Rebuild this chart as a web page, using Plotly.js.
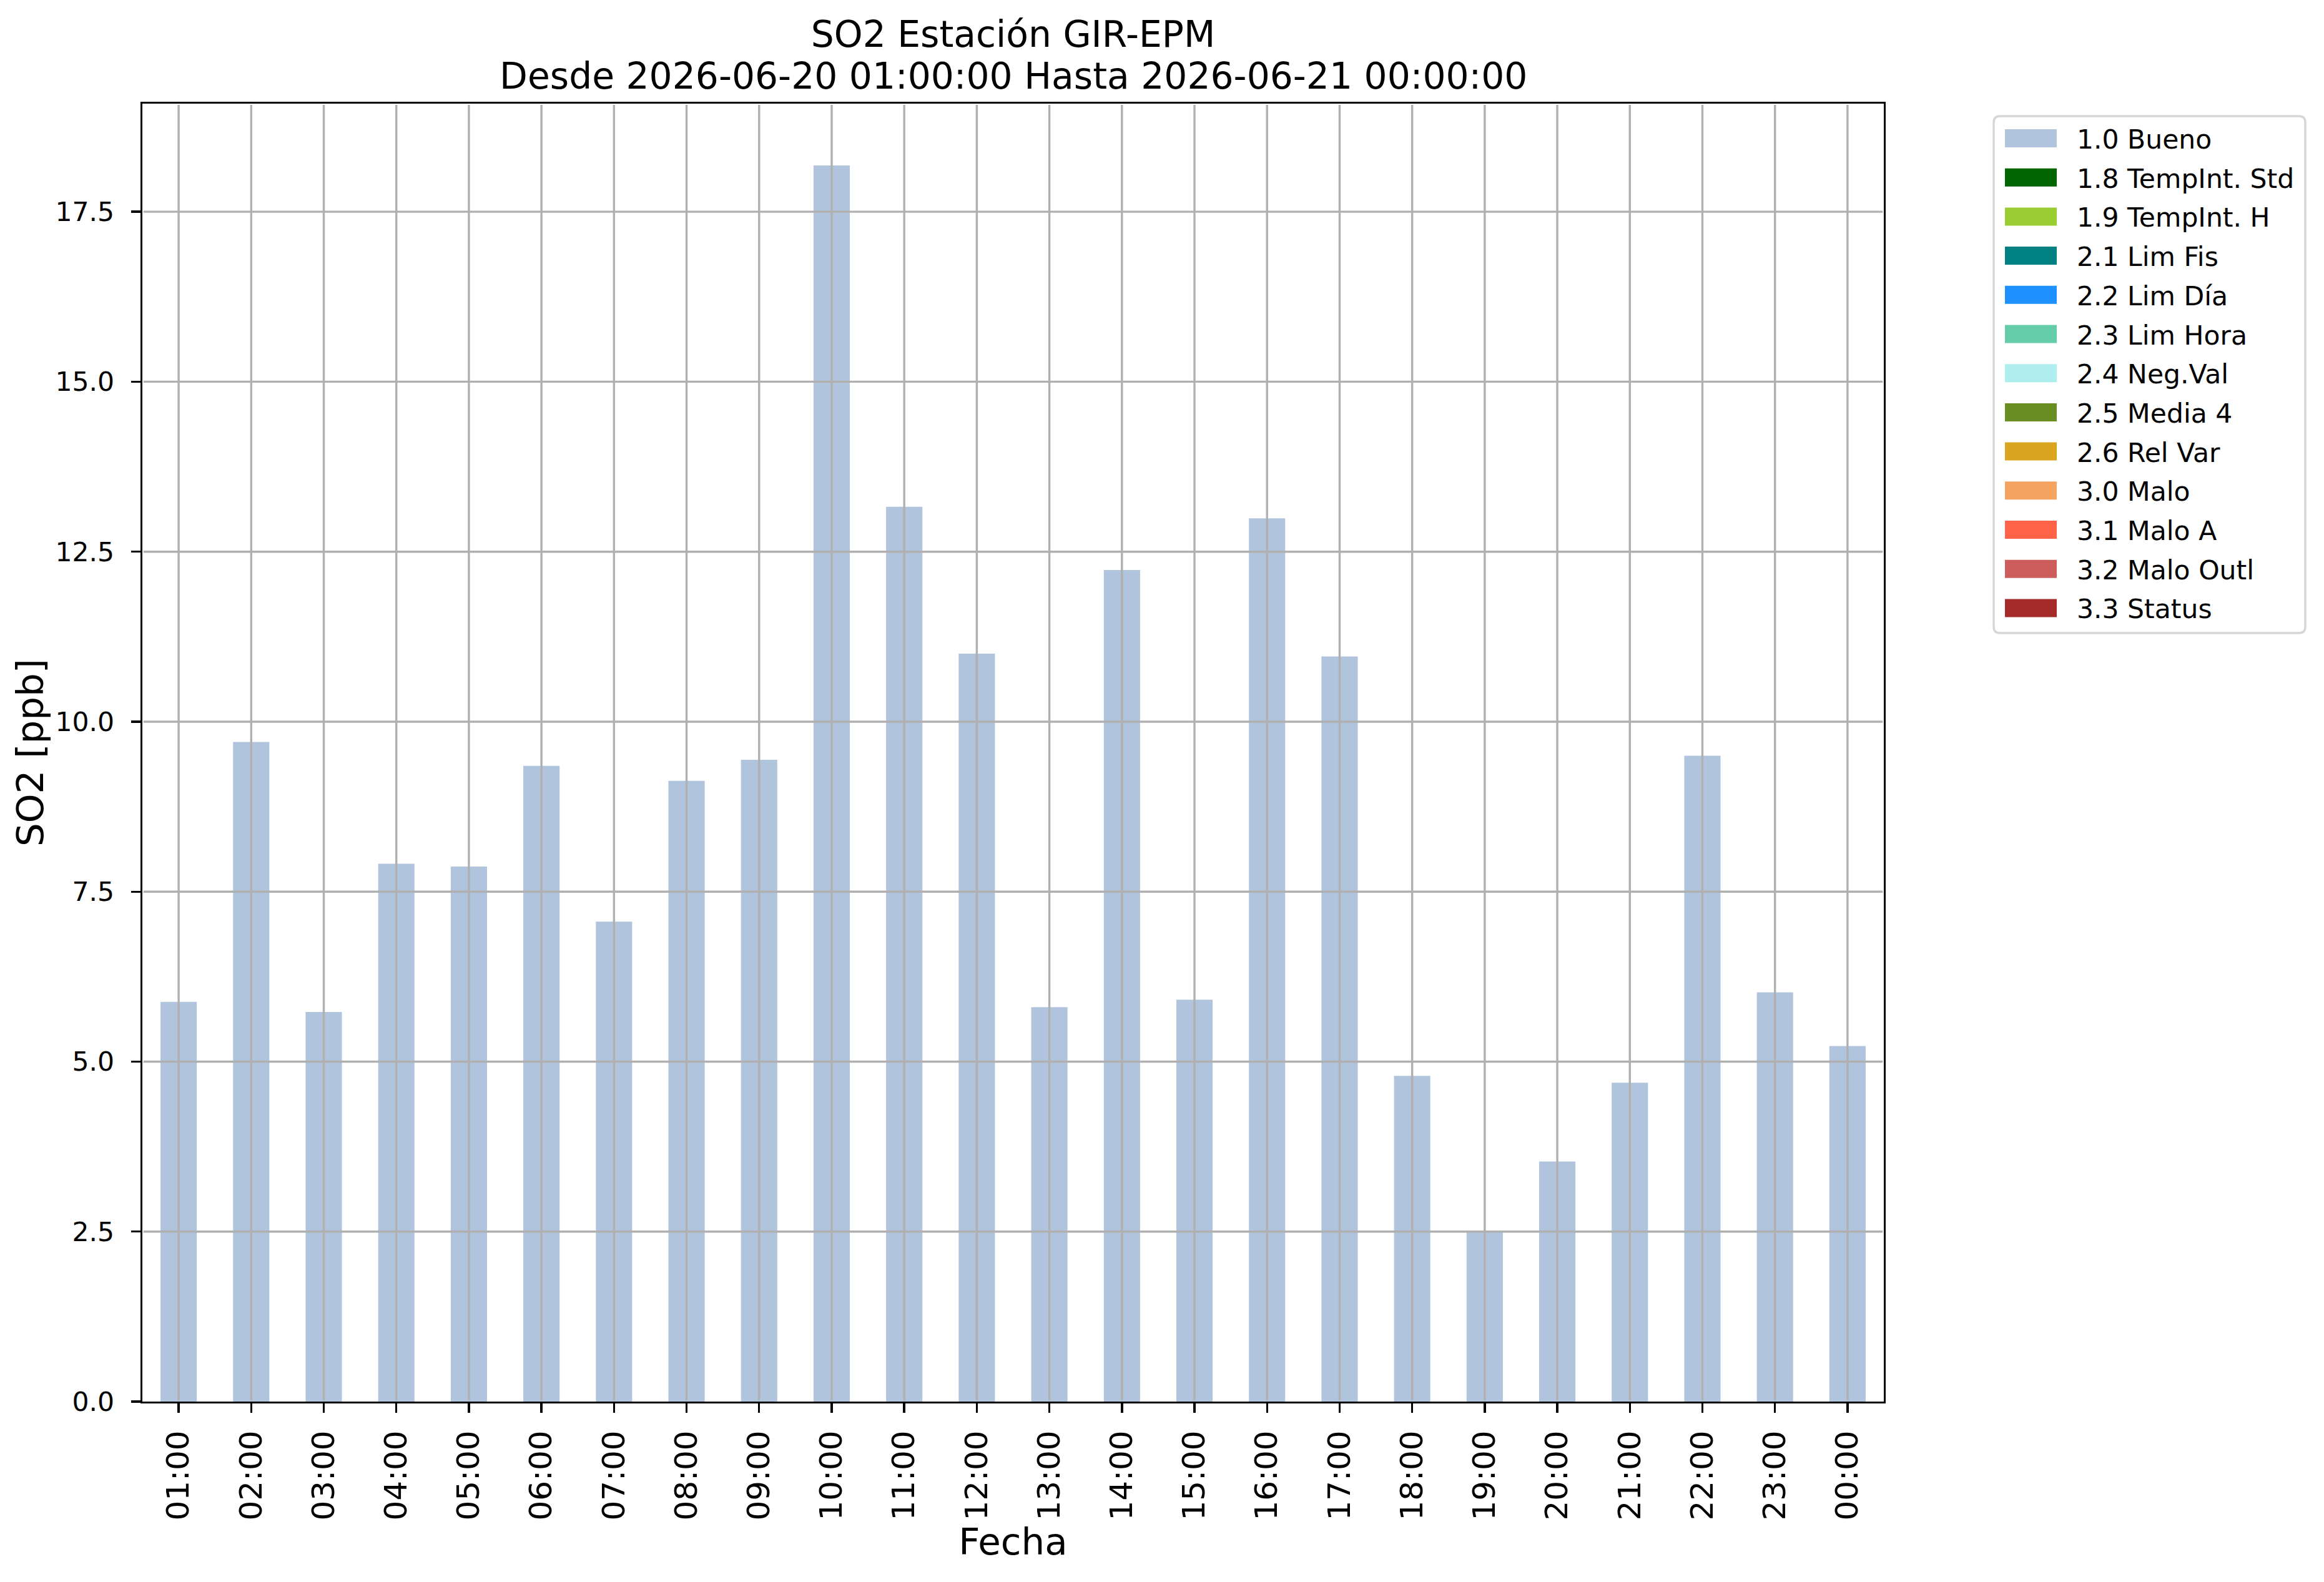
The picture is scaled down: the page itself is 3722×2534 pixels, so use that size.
<!DOCTYPE html>
<html>
<head>
<meta charset="utf-8">
<script src="https://cdn.plot.ly/plotly-3.0.1.min.js"></script>
<style>
  html, body { margin: 0; padding: 0; background: #fff; }
  #chart { width: 3722px; height: 2534px; }
</style>
</head>
<body>
<div id="chart"></div>
<script>
// hourly SO2 values
var hours = ['01:00', '02:00', '03:00', '04:00', '05:00', '06:00', '07:00', '08:00',
             '09:00', '10:00', '11:00', '12:00', '13:00', '14:00', '15:00', '16:00',
             '17:00', '18:00', '19:00', '20:00', '21:00', '22:00', '23:00', '00:00'];
var so2 = [5.88, 9.70, 5.73, 7.91, 7.87, 9.35, 7.06, 9.13,
           9.44, 18.18, 13.16, 11.00, 5.80, 12.23, 5.91, 12.99,
           10.96, 4.79, 2.51, 3.53, 4.69, 9.50, 6.02, 5.23];

// quality flags (legend)
var flagNames = ['1.0 Bueno', '1.8 TempInt. Std', '1.9 TempInt. H', '2.1 Lim Fis',
                 '2.2 Lim Día', '2.3 Lim Hora', '2.4 Neg.Val', '2.5 Media 4',
                 '2.6 Rel Var', '3.0 Malo', '3.1 Malo A', '3.2 Malo Outl', '3.3 Status'];
var flagColors = ['#b0c4de', '#006400', '#9acd32', '#008080', '#1e90ff', '#66cdaa',
                  '#afeeee', '#6b8e23', '#daa520', '#f4a460', '#ff6347', '#cd5c5c', '#a52a2a'];

var yTicks = [0, 2.5, 5, 7.5, 10, 12.5, 15, 17.5];
var yMax = 19.09;

var titleText = 'SO2 Estación GIR-EPM';
var subtitleText = 'Desde 2026-06-20 01:00:00 Hasta 2026-06-21 00:00:00';

// plot box in pixels
var W = 3722, H = 2534;
var L = 228, R = 3017, T = 166, B = 2245;
var pw = R - L, ph = B - T;
function px(x) { return (x - L) / pw; }
function py(y) { return (B - y) / ph; }

var font = 'DejaVu Sans, Verdana, sans-serif';
var gridColor = '#b0b0b0';
var lw = 3.4;

var shapes = [];
var annotations = [];

// grid drawn over the bars, like matplotlib's default here
hours.forEach(function(h) {
  shapes.push({type: 'line', layer: 'above', xref: 'x', yref: 'paper',
    x0: h, x1: h, y0: 1.7 / ph, y1: 1 - 1.7 / ph,
    line: {color: gridColor, width: lw}});
});
yTicks.forEach(function(v) {
  if (v === 0) return;
  shapes.push({type: 'line', layer: 'above', xref: 'paper', yref: 'y',
    x0: 1.7 / pw, x1: 1 - 1.7 / pw, y0: v, y1: v,
    line: {color: gridColor, width: lw}});
});

// legend frame (rounded)
var bx0 = px(3193), bx1 = px(3692), by0 = py(186), by1 = py(1014);
var rx = 10 / pw, ry = 10 / ph;
shapes.push({type: 'path', layer: 'above', xref: 'paper', yref: 'paper',
  path: 'M' + (bx0 + rx) + ',' + by0 + ' L' + (bx1 - rx) + ',' + by0 +
        ' Q' + bx1 + ',' + by0 + ' ' + bx1 + ',' + (by0 - ry) +
        ' L' + bx1 + ',' + (by1 + ry) +
        ' Q' + bx1 + ',' + by1 + ' ' + (bx1 - rx) + ',' + by1 +
        ' L' + (bx0 + rx) + ',' + by1 +
        ' Q' + bx0 + ',' + by1 + ' ' + bx0 + ',' + (by1 + ry) +
        ' L' + bx0 + ',' + (by0 - ry) +
        ' Q' + bx0 + ',' + by0 + ' ' + (bx0 + rx) + ',' + by0 + ' Z',
  fillcolor: '#ffffff', line: {color: '#d6d6d6', width: lw}});

flagNames.forEach(function(name, i) {
  var cy = 221.5 + 62.7 * i;
  shapes.push({type: 'rect', layer: 'above', xref: 'paper', yref: 'paper',
    x0: px(3211), x1: px(3294), y0: py(cy - 14.5), y1: py(cy + 14.5),
    fillcolor: flagColors[i], line: {width: 0}});
  annotations.push({xref: 'paper', yref: 'paper', x: px(3324), y: py(cy + 2),
    xanchor: 'left', yanchor: 'middle', showarrow: false, text: name,
    font: {family: font, size: 42.5, color: '#000'}});
});

// second title line
annotations.push({xref: 'paper', yref: 'paper', x: 0.5, y: py(122),
  xanchor: 'center', yanchor: 'middle', showarrow: false, text: subtitleText,
  font: {family: font, size: 58.3, color: '#000'}});

var trace = {
  type: 'bar', x: hours, y: so2, width: 0.5, name: flagNames[0],
  marker: {color: flagColors[0], line: {width: 0}},
  showlegend: false, hoverinfo: 'x+y'
};

var layout = {
  width: W, height: H,
  margin: {l: L, r: W - R, t: T, b: H - B, pad: 0},
  paper_bgcolor: '#fff', plot_bgcolor: '#fff',
  font: {family: font, color: '#000'},
  showlegend: false,
  title: {text: titleText, x: 0.5, xref: 'paper', xanchor: 'center',
          y: 1 - 55 / H, yref: 'container', yanchor: 'middle',
          font: {family: font, size: 58.3, color: '#000'}},
  xaxis: {
    type: 'category', range: [-0.5, hours.length - 0.5],
    showgrid: false, zeroline: false,
    showline: true, mirror: true, linecolor: '#000', linewidth: lw,
    ticks: 'outside', ticklen: 15, tickwidth: lw, tickcolor: '#000',
    tickangle: -90, ticklabelstandoff: 8,
    tickfont: {family: font, size: 50, color: '#000'},
    title: {text: 'Fecha', standoff: 12, font: {family: font, size: 59.5, color: '#000'}}
  },
  yaxis: {
    range: [0, yMax], tickvals: yTicks, tickformat: '.1f',
    showgrid: false, zeroline: false,
    showline: true, mirror: true, linecolor: '#000', linewidth: lw,
    ticks: 'outside', ticklen: 15, tickwidth: lw, tickcolor: '#000',
    ticklabelstandoff: 18,
    tickfont: {family: font, size: 42.5, color: '#000'},
    title: {text: 'SO2 [ppb]', standoff: 0, font: {family: font, size: 59.5, color: '#000'}}
  },
  shapes: shapes,
  annotations: annotations
};

Plotly.newPlot('chart', [trace], layout, {staticPlot: true});
</script>
</body>
</html>
